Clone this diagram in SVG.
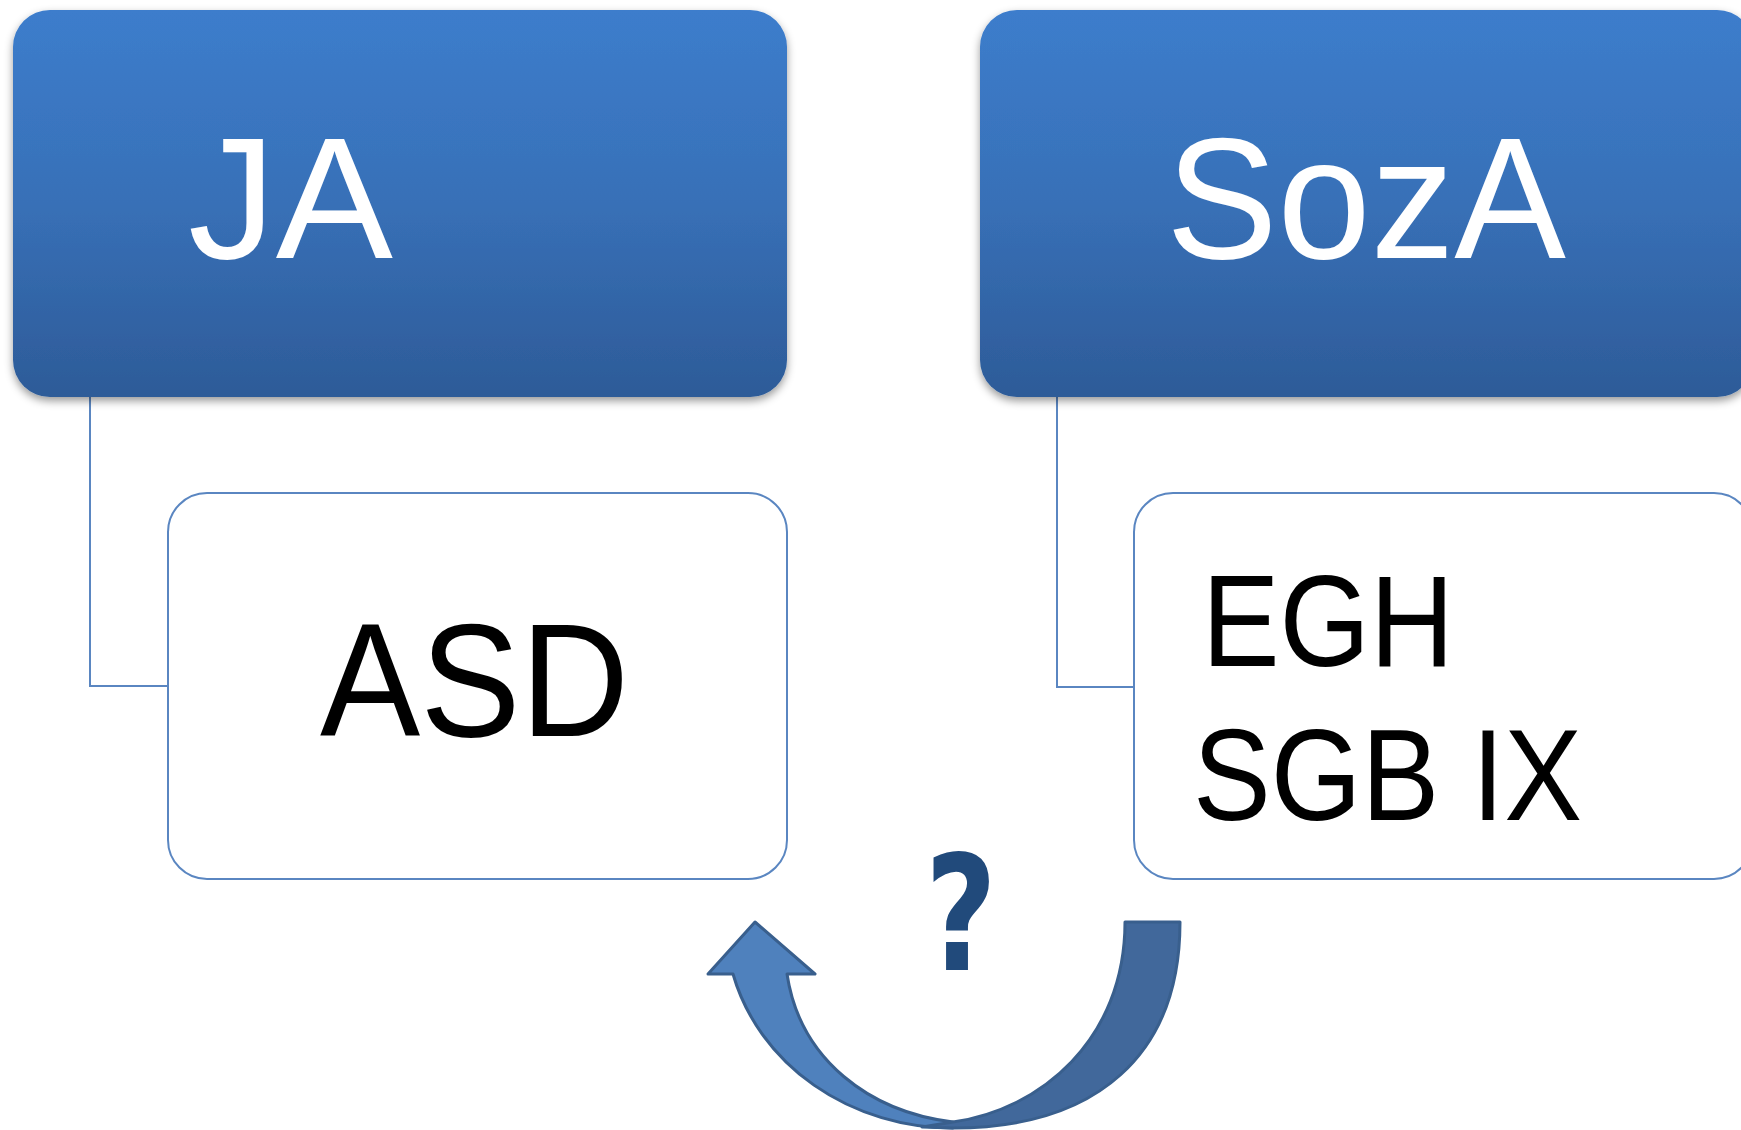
<svg xmlns="http://www.w3.org/2000/svg" width="1741" height="1130" viewBox="0 0 1741 1130">
<style>
.head{fill:url(#hg);filter:url(#sh)}
.child{fill:#ffffff;stroke:#5a86c1;stroke-width:2}
.conn{fill:none;stroke:#5a86c1;stroke-width:2}
.ht{font-family:"Liberation Sans",Arial,sans-serif;fill:#ffffff;font-size:173px}
.ct{font-family:"Liberation Sans",Arial,sans-serif;fill:#000000}
.arr{stroke:#395f8d;stroke-width:3;stroke-linejoin:round}
</style>
<defs>
<linearGradient id="hg" x1="0" y1="0" x2="0" y2="1">
<stop offset="0" stop-color="#3c7dcc"/>
<stop offset="0.5" stop-color="#3870b7"/>
<stop offset="1" stop-color="#2d5b98"/>
</linearGradient>
<filter id="sh" x="-5%" y="-5%" width="110%" height="115%">
<feDropShadow dx="0" dy="4" stdDeviation="4" flood-color="#000000" flood-opacity="0.4"/>
</filter>
</defs>
<rect width="1741" height="1130" fill="#ffffff"/>
<g id="connectors">
<path class="conn" d="M90,396 V686 H168"/>
<path class="conn" d="M1057,396 V687 H1134"/>
</g>
<g id="node-ja">
<rect class="head" x="13" y="10" width="774" height="387" rx="37" ry="37"/>
<text class="ht" x="188" y="258" textLength="205" lengthAdjust="spacingAndGlyphs">JA</text>
</g>
<g id="node-soza">
<rect class="head" x="980" y="10" width="774" height="387" rx="37" ry="37"/>
<text class="ht" x="1166" y="258" textLength="400" lengthAdjust="spacingAndGlyphs">SozA</text>
</g>
<g id="node-asd">
<rect class="child" x="168" y="493" width="619" height="386" rx="39" ry="39"/>
<text class="ct" x="320" y="736" font-size="162" textLength="309" lengthAdjust="spacingAndGlyphs">ASD</text>
</g>
<g id="node-egh">
<rect class="child" x="1134" y="493" width="619" height="386" rx="39" ry="39"/>
<text class="ct" x="1202" y="666" font-size="130" textLength="252" lengthAdjust="spacingAndGlyphs">EGH</text>
<text class="ct" x="1193" y="820" font-size="130" textLength="389" lengthAdjust="spacingAndGlyphs">SGB IX</text>
</g>
<g id="node-question">
<text x="925" y="970" font-family="'DejaVu Sans',sans-serif" font-weight="bold" font-size="160" fill="#214a7b" textLength="72" lengthAdjust="spacingAndGlyphs">?</text>
</g>
<g id="curved-arrow">
<path class="arr" fill="#4f81bd" d="M953,1128 A227,206 0 0 1 733,974 L708,974 L755,922 L815,974 L787,974 C800,1060 870,1112 953,1122 Z"/>
<path class="arr" fill="#41689b" d="M1180,922 C1180,1054 1098,1128 953,1128 L922,1127 L953,1122 C1040,1110 1125,1040 1125,922 Z"/>
</g>
</svg>
